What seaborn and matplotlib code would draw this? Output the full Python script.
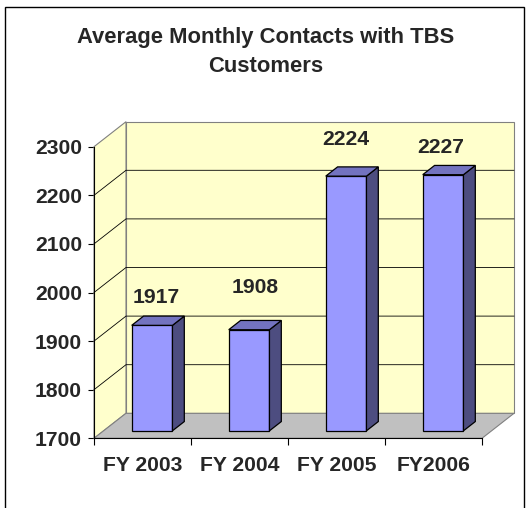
import numpy as np
import matplotlib
matplotlib.use("Agg")
import matplotlib.pyplot as plt
from matplotlib.patches import Polygon, Rectangle
from matplotlib.transforms import IdentityTransform, offset_copy
import seaborn as sns

years = ["FY 2003", "FY 2004", "FY 2005", "FY2006"]
contacts = [1917, 1908, 2224, 2227]
y_ticks = [1700, 1800, 1900, 2000, 2100, 2200, 2300]
title = "Average Monthly Contacts with TBS\nCustomers"

# Excel puts the value labels a bit unevenly, nudge them (pixels)
label_dx = [4, 6, 0, -2]
label_dy = [-5, 9, 4, -6]

DX, DY = 32, 25          # depth of the fake 3d box, in pixels
D0, D1 = 0.30, 0.67      # bar front/back depth as fraction of the box
WALL = "#FFFFCC"
FLOOR = "#C0C0C0"
EDGE = "#808080"

sns.set_style("white")
plt.rcParams['font.family'] = ['Liberation Sans', 'DejaVu Sans']
plt.rcParams['font.weight'] = 'bold'
FS = 15.2

fig = plt.figure(figsize=(5.31, 5.08), dpi=100)
ax = fig.add_axes([94 / 531, 1 - 438.3 / 508, 388 / 531, 291.6 / 508])
ax.patch.set_visible(False)

sns.barplot(x=years, y=contacts, width=0.42, color="#9999FF", saturation=1,
            edgecolor="black", linewidth=0.9, ax=ax, zorder=5)
ax.set_xlim(-0.5, 3.5)
ax.set_ylim(y_ticks[0], y_ticks[-1])
ax.set_autoscale_on(False)
ax.set_xlabel("")
ax.set_ylabel("")

y0, y1 = y_ticks[0], y_ticks[-1]
x0, x1 = -0.5, 3.5


def px(x, y, d):
    p = ax.transData.transform((x, y))
    return (p[0] + d * DX, p[1] + d * DY)


def poly(pts, fc, ec, lw=0.8, z=1):
    p = Polygon(pts, closed=True, facecolor=fc, edgecolor=ec, linewidth=lw,
                transform=IdentityTransform(), zorder=z)
    p.set_clip_on(False)
    ax.add_patch(p)


def line(pts, color, lw=0.6, z=2):
    xs, ys = zip(*pts)
    ln = plt.Line2D(xs, ys, color=color, linewidth=lw,
                    transform=IdentityTransform(), zorder=z)
    ln.set_clip_on(False)
    ax.add_line(ln)


# walls and floor
poly([px(x0, y0, 1), px(x1, y0, 1), px(x1, y1, 1), px(x0, y1, 1)], WALL, EDGE)
poly([px(x0, y0, 0), px(x0, y1, 0), px(x0, y1, 1), px(x0, y0, 1)], WALL, EDGE)
poly([px(x0, y0, 0), px(x1, y0, 0), px(x1, y0, 1), px(x0, y0, 1)], FLOOR, EDGE)
for v in y_ticks[1:-1]:
    line([px(x0, v, 0), px(x0, v, 1), px(x1, v, 1)], "black")

# push the seaborn bars back into the box and give them top and side faces
bar_tr = offset_copy(ax.transData, fig=fig, x=D0 * DX, y=D0 * DY, units='dots')
for i, bar in enumerate(ax.patches):
    if not isinstance(bar, Rectangle) or bar.get_width() > 1:
        continue
    v = bar.get_height()
    xl = bar.get_x()
    xr = xl + bar.get_width()
    bar.set_y(y0)
    bar.set_height(v - y0)
    bar.set_transform(bar_tr)
    bar.set_clip_on(False)
    poly([px(xr, y0, D0), px(xr, v, D0), px(xr, v, D1), px(xr, y0, D1)],
         "#4D4D80", "black", lw=0.9, z=6)
    poly([px(xl, v, D0), px(xr, v, D0), px(xr, v, D1), px(xl, v, D1)],
         "#7373C0", "black", lw=0.9, z=6)

for i, v in enumerate(contacts):
    tr = offset_copy(ax.transData, fig=fig, x=D0 * DX + label_dx[i],
                     y=D0 * DY + 33 + label_dy[i], units='dots')
    ax.text(i, v, str(v), transform=tr, ha='center', va='center',
            fontsize=FS, fontweight='bold', zorder=8)

# axes
for s in ["top", "right"]:
    ax.spines[s].set_visible(False)
ax.spines["left"].set_color("black")
ax.spines["bottom"].set_color("black")
ax.spines["left"].set_linewidth(0.8)
ax.spines["bottom"].set_linewidth(0.8)
ax.spines["left"].set_zorder(3)
ax.spines["bottom"].set_zorder(3)
ax.set_yticks(y_ticks)
ax.set_yticklabels([str(t) for t in y_ticks], fontsize=FS, fontweight='bold')
ax.tick_params(axis='y', direction='out', length=4.3, width=0.8, pad=4.3,
               color='black', left=True)
ax.set_xticks(range(len(years)))
ax.set_xticklabels(years, fontsize=FS, fontweight='bold')
ax.set_xticks(np.arange(-0.5, len(years)), minor=True)
ax.tick_params(axis='x', which='major', length=0, pad=13)
ax.tick_params(axis='x', which='minor', direction='out', length=5, width=0.8,
               color='black', bottom=True)

fig.text(266 / 531, 1 - 52 / 508, title, ha='center', va='center',
         fontsize=15.8, fontweight='bold', linespacing=1.5)

frame = Rectangle((5 / 531, -0.02), 519 / 531, (508 - 7) / 508 + 0.02,
                  transform=fig.transFigure, fill=False, edgecolor='black',
                  linewidth=1.0)
fig.patches.append(frame)

fig.savefig("out.png", dpi=100)
